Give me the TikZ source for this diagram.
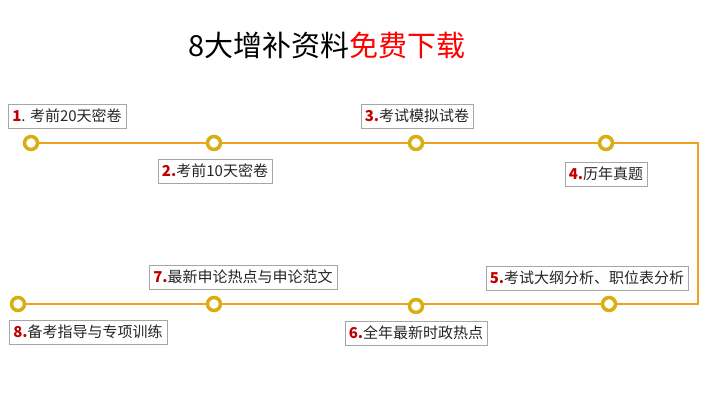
\documentclass[tikz,border=0pt]{standalone}
\usepackage{fontspec}
\newfontfamily\cjk{Noto Sans CJK SC}
\definecolor{ln}{HTML}{F0A21E}
\definecolor{dot}{HTML}{D8AE12}
\definecolor{num}{HTML}{C00000}
\begin{document}
\begin{tikzpicture}[x=1pt,y=-1pt,
  lbl/.style={draw=gray!70,fill=white,inner xsep=4pt,inner ysep=5pt,font=\cjk\fontsize{15}{17}\selectfont,text=black!85},
  pt/.style={circle,draw=dot,line width=3.5pt,fill=white,minimum size=13pt,inner sep=0pt},
  conn/.style={draw=ln,line width=2pt}]
\useasboundingbox (0,0) rectangle (716,420);
\node[font=\cjk\fontsize{29}{32}\selectfont] (t) at (327,45) {8大增补资料\textcolor{red}{免费下载}};
\coordinate (c1) at (698,143);
\coordinate (c2) at (698,304);
\draw[conn] (31,143) -- (c1) -- (c2) -- (18,304);
\node[pt] (p1) at (31,143) {};
\node[pt] (p2) at (214,143) {};
\node[pt] (p3) at (416,143) {};
\node[pt] (p4) at (606,143) {};
\node[pt] (p5) at (609,304) {};
\node[pt] (p6) at (416,306) {};
\node[pt] (p7) at (214,304) {};
\node[pt] (p8) at (18,304) {};
\node[lbl] (l1) at (67,116) {\textcolor{num}{\textbf{1}}. 考前20天密卷};
\node[lbl] (l2) at (215,171) {\textcolor{num}{\textbf{2.}}考前10天密卷};
\node[lbl] (l3) at (417,116) {\textcolor{num}{\textbf{3.}}考试模拟试卷};
\node[lbl] (l4) at (606,174) {\textcolor{num}{\textbf{4.}}历年真题};
\node[lbl] (l5) at (587,278) {\textcolor{num}{\textbf{5.}}考试大纲分析、职位表分析};
\node[lbl] (l6) at (416,333) {\textcolor{num}{\textbf{6.}}全年最新时政热点};
\node[lbl] (l7) at (243,277) {\textcolor{num}{\textbf{7.}}最新申论热点与申论范文};
\node[lbl] (l8) at (88,332) {\textcolor{num}{\textbf{8.}}备考指导与专项训练};
\end{tikzpicture}
\end{document}
